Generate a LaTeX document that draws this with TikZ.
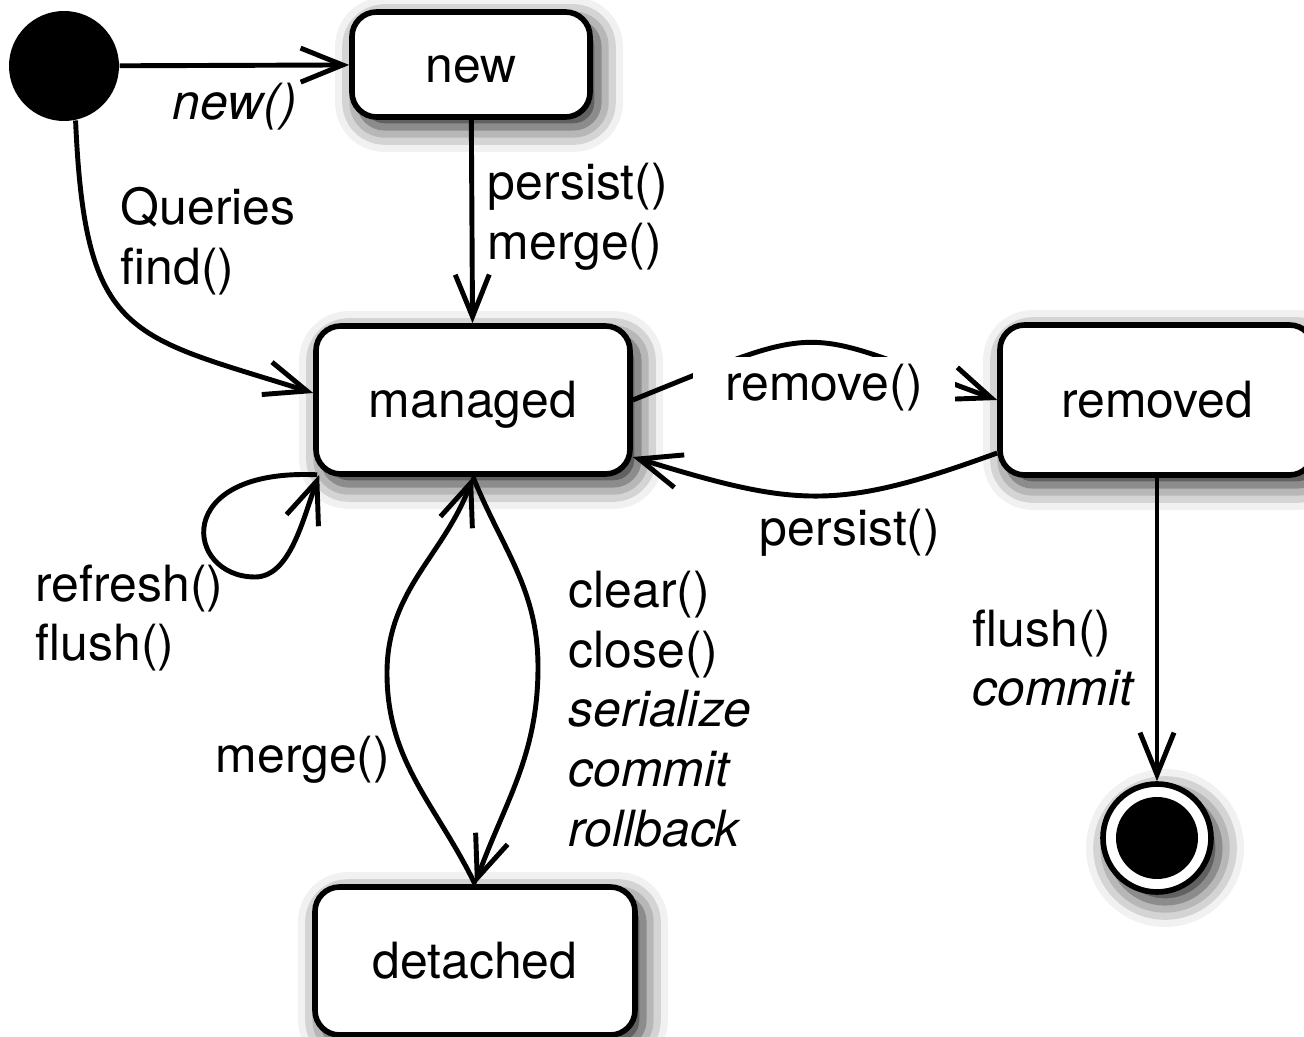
\documentclass[tikz,border=0pt]{standalone}
\usepackage{fontspec}
\setmainfont{TeX Gyre Heros}
\usepackage{tikz}
\usetikzlibrary{arrows.meta,shadows.blur}
\newcommand\diagfont{\fontsize{14.2}{17}\selectfont}

\begin{document}
\begin{tikzpicture}[
  softshadow/.style={blur shadow={shadow xshift=0.08cm, shadow yshift=-0.1cm, shadow blur radius=0.25cm, shadow opacity=90}},
  state/.style={draw, line width=1.6pt, rounded corners=7pt, fill=white, minimum width=3.14cm, minimum height=1.48cm, text height=12pt, text depth=2pt, font=\diagfont, softshadow},
  trans/.style={line width=1.4pt, -{Straight Barb[length=0.42cm,width=0.34cm]}},
  lbl/.style={font=\diagfont, inner sep=0pt, align=left},
]
\useasboundingbox (0,0) rectangle (13.04,-10.37);

\node[circle, fill=black, minimum size=1.1cm, inner sep=0pt] (init) at (0.64,-0.66) {};
\node[state, minimum width=2.38cm, minimum height=1.05cm] (new) at (4.71,-0.645) {new};
\node[state] (managed) at (4.73,-4.00) {managed};
\node[state, minimum height=1.50cm] (removed) at (11.57,-4.00) {removed};
\node[state, minimum width=3.2cm] (detached) at (4.75,-9.61) {detached};
\node[circle, draw, line width=1.6pt, fill=white, minimum size=1.08cm, inner sep=0pt, softshadow] (final) at (11.57,-8.38) {};
\node[circle, fill=black, minimum size=0.82cm, inner sep=0pt] (finaldot) at (final) {};

\draw[trans] (init) -- (new);
\draw[trans] (init.-78) .. controls (0.85,-3.4) and (1.3,-3.35) .. ([yshift=0.07cm]managed.west);
\draw[trans] (new) -- (managed);
\draw[trans] (managed.east) to[out=22, in=160, looseness=1.5] (removed.west);
\draw[trans] ([yshift=-0.53cm]removed.west) to[out=200, in=-17, looseness=1.2] ([yshift=-0.57cm]managed.east);
\draw[trans] ([shift={(0.04,0.02)}]managed.south west) .. controls (1.7,-4.68) and (1.85,-5.77) .. (2.55,-5.77)
  .. controls (2.9,-5.77) and (3.03,-5.19) .. ([shift={(0.06,0.02)}]managed.south west);
\draw[trans] (managed.south) to[out=-68, in=90] (5.38,-6.67) to[out=-90, in=70] (detached.north);
\draw[trans] (detached.north) to[out=116, in=-90] (3.87,-6.73) to[out=90, in=-110] (managed.south);
\draw[trans] (removed.south) -- (final.north);

\node[lbl] (newlbl) at (2.35,-1.07) {\itshape new()};
\node[lbl, anchor=west] (querylbl) at (1.20,-2.41) {Queries\\find()};
\node[lbl, anchor=west] (persistlbl) at (4.87,-2.17) {persist()\\merge()};
\node[lbl, fill=white, minimum width=2.62cm, minimum height=0.62cm] (removelbl) at (8.24,-3.88) {remove()};
\node[lbl] (backlbl) at (8.50,-5.33) {persist()};
\node[lbl, anchor=west] (refreshlbl) at (0.35,-6.18) {refresh()\\flush()};
\node[lbl, anchor=west] (clearlbl) at (5.68,-7.09) {clear()\\close()\\\itshape serialize\\\itshape commit\\\itshape rollback};
\node[lbl, anchor=west] (mergelbl) at (2.15,-7.60) {merge()};
\node[lbl, anchor=west] (flushlbl) at (9.72,-6.58) {flush()\\\itshape commit};
\end{tikzpicture}
\end{document}
